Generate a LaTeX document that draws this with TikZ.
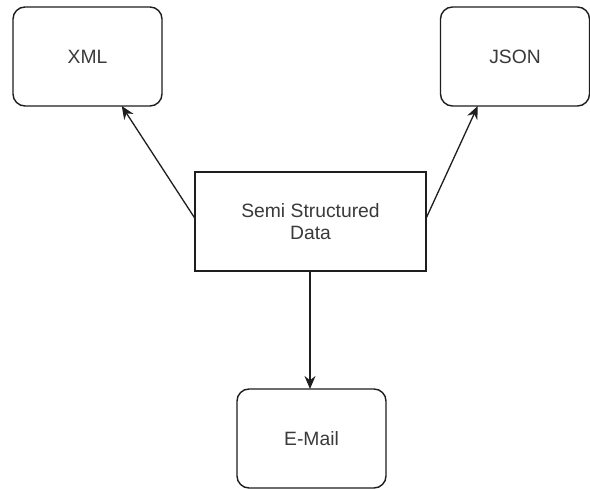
\documentclass[tikz,border=0pt]{standalone}
\usepackage{fontspec}
\setmainfont{Liberation Sans}
\usetikzlibrary{arrows.meta,calc}
\definecolor{linec}{HTML}{1E1E1E}
\definecolor{textc}{HTML}{3A3A3A}
\begin{document}
\begin{tikzpicture}[x=1pt,y=-1pt,
  rbox/.style={draw=linec, line width=1.4pt, rounded corners=12pt, minimum width=149pt, minimum height=99pt, inner sep=0pt, outer sep=0pt, text=textc, font=\fontsize{19.3}{21.5}\selectfont, align=center},
  sbox/.style={draw=linec, line width=1.4pt, minimum width=231pt, minimum height=99pt, inner sep=0pt, outer sep=0pt, text=textc, font=\fontsize{19.3}{21.5}\selectfont, align=center},
  conn/.style={draw=linec, line width=1.3pt, -{Stealth[length=13pt,width=11pt]}}]
\useasboundingbox (0,0) rectangle (590,489);
\fill[white] (0,0) rectangle (590,489);
\node[rbox] (xml) at (87.5,56.5) {XML};
\node[rbox] (json) at (515,56.5) {JSON};
\node[sbox] (semi) at (310.5,221.5) {Semi Structured\\Data};
\node[rbox] (email) at (311.5,438.5) {E-Mail};
\draw[conn] ($(semi.west)+(0,-3)$) -- ($(xml.south west)!0.73!(xml.south east)$);
\draw[conn] ($(semi.east)+(0,-3)$) -- ($(json.south west)!0.25!(json.south east)$);
\draw[conn] ($(semi.south)+(-0.5,0)$) -- ($(email.north)+(-1.5,0)$);
\end{tikzpicture}
\end{document}
